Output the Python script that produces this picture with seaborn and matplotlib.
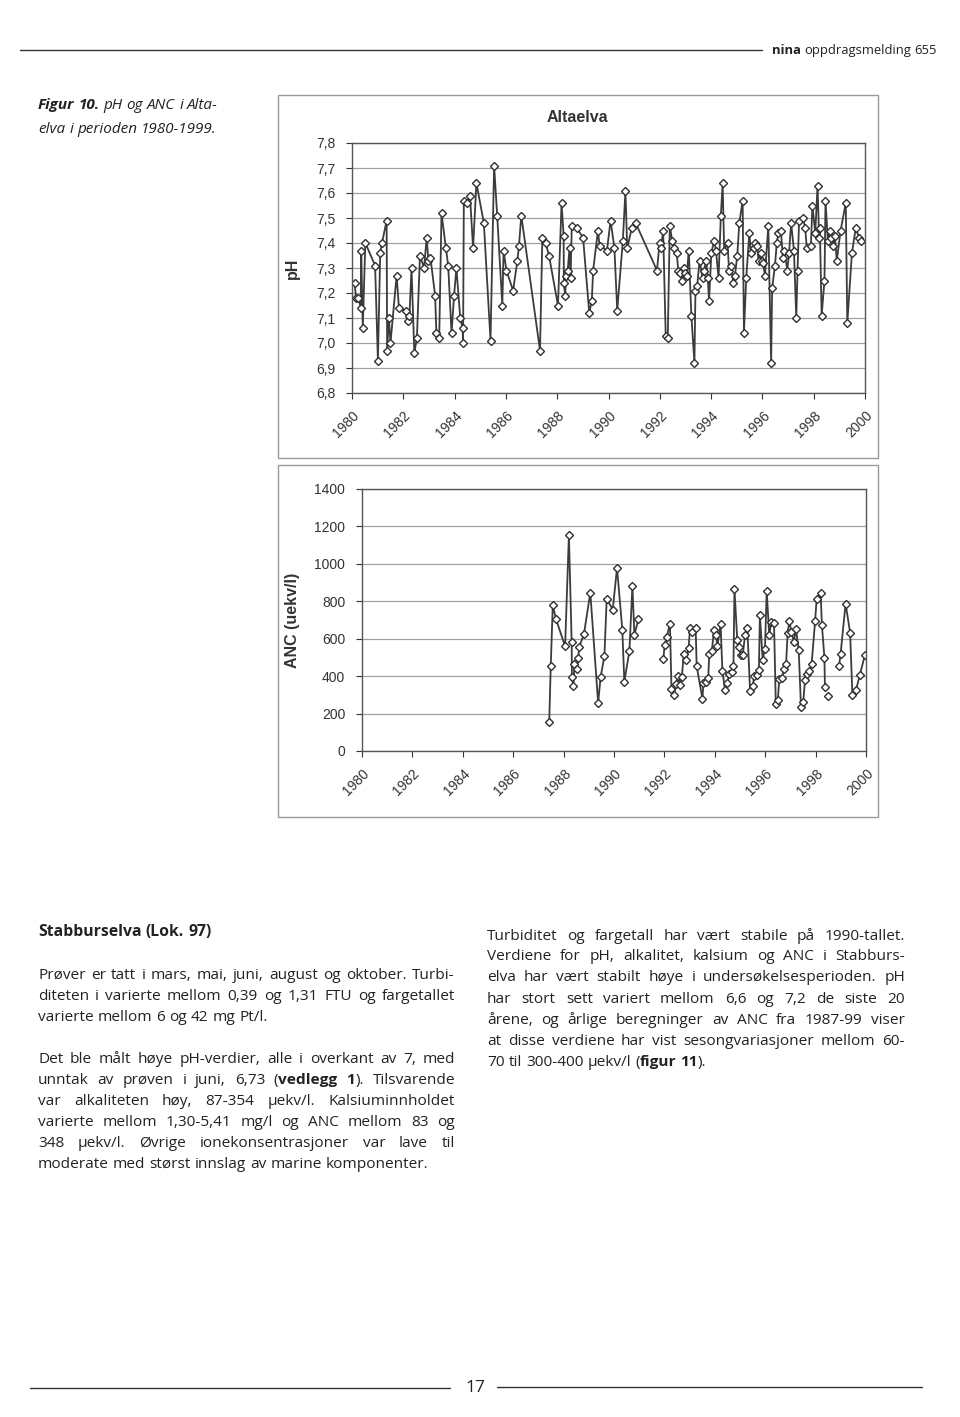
import numpy as np
import pandas as pd
import matplotlib
matplotlib.use("Agg")
import matplotlib.pyplot as plt
import seaborn as sns
from matplotlib.patches import Rectangle
from matplotlib.lines import Line2D
from matplotlib.transforms import IdentityTransform
from matplotlib.ticker import FuncFormatter

# ---------------- data ----------------
ph_year = [
    1980.10, 1980.16, 1980.25, 1980.34, 1980.36, 1980.42, 1980.52, 1980.90, 1981.01, 1981.10,
    1981.17, 1981.35, 1981.37, 1981.44, 1981.50, 1981.74, 1981.83, 1982.09, 1982.18, 1982.24,
    1982.32, 1982.43, 1982.53, 1982.65, 1982.81, 1982.91, 1982.98, 1983.06, 1983.24, 1983.29,
    1983.40, 1983.49, 1983.66, 1983.75, 1983.88, 1983.98, 1984.07, 1984.22, 1984.31, 1984.33,
    1984.36, 1984.48, 1984.60, 1984.72, 1984.85, 1985.14, 1985.40, 1985.54, 1985.66, 1985.86,
    1985.91, 1986.02, 1986.28, 1986.45, 1986.51, 1986.60, 1987.33, 1987.42, 1987.55, 1987.68,
    1988.03, 1988.17, 1988.25, 1988.26, 1988.31, 1988.35, 1988.41, 1988.48, 1988.52, 1988.57,
    1988.77, 1989.01, 1989.25, 1989.35, 1989.40, 1989.59, 1989.65,
    1989.94, 1990.08, 1990.23, 1990.34, 1990.56, 1990.66, 1990.73, 1990.91, 1991.06, 1991.89,
    1991.99, 1992.05, 1992.13, 1992.23, 1992.31, 1992.39, 1992.48, 1992.57, 1992.66, 1992.72,
    1992.80, 1992.87, 1992.93, 1993.00, 1993.05, 1993.13, 1993.23, 1993.35, 1993.39, 1993.46,
    1993.55, 1993.67, 1993.72, 1993.81, 1993.87, 1993.92, 1994.01, 1994.12, 1994.19, 1994.29,
    1994.38, 1994.45, 1994.51, 1994.64, 1994.70, 1994.79, 1994.86, 1994.93, 1995.02, 1995.10,
    1995.23, 1995.28, 1995.37, 1995.49, 1995.55, 1995.66, 1995.73, 1995.79, 1995.85, 1995.93,
    1995.97, 1996.03, 1996.10, 1996.23, 1996.34, 1996.38, 1996.49, 1996.56, 1996.62, 1996.72,
    1996.80, 1996.86, 1996.97, 1997.04, 1997.12, 1997.23, 1997.32, 1997.37, 1997.43, 1997.58,
    1997.67, 1997.73, 1997.89, 1997.95, 1998.06, 1998.15, 1998.21, 1998.24, 1998.31, 1998.42,
    1998.46, 1998.55, 1998.63, 1998.69, 1998.76, 1998.82, 1998.90, 1999.05, 1999.25, 1999.31,
    1999.49, 1999.64, 1999.77, 1999.83]
ph_value = [
    7.24, 7.18, 7.18, 7.14, 7.37, 7.06, 7.40, 7.31, 6.93, 7.36,
    7.40, 7.49, 6.97, 7.10, 7.00, 7.27, 7.14, 7.13, 7.09, 7.11,
    7.30, 6.96, 7.02, 7.35, 7.30, 7.42, 7.33, 7.34, 7.19, 7.04,
    7.02, 7.52, 7.38, 7.31, 7.04, 7.19, 7.30, 7.10, 7.06, 7.00,
    7.57, 7.56, 7.59, 7.38, 7.64, 7.48, 7.01, 7.71, 7.51, 7.15,
    7.37, 7.29, 7.21, 7.33, 7.39, 7.51, 6.97, 7.42, 7.40, 7.35,
    7.15, 7.56, 7.43, 7.24, 7.19, 7.27, 7.29, 7.38, 7.26, 7.47,
    7.46, 7.42, 7.12, 7.17, 7.29, 7.45, 7.39,
    7.37, 7.49, 7.38, 7.13, 7.41, 7.61, 7.38, 7.46, 7.48, 7.29,
    7.40, 7.38, 7.45, 7.03, 7.02, 7.47, 7.41, 7.38, 7.36, 7.29,
    7.28, 7.25, 7.30, 7.28, 7.27, 7.37, 7.11, 6.92, 7.21, 7.23,
    7.33, 7.26, 7.29, 7.33, 7.26, 7.17, 7.36, 7.41, 7.37, 7.26,
    7.51, 7.64, 7.37, 7.40, 7.29, 7.31, 7.24, 7.27, 7.35, 7.48,
    7.57, 7.04, 7.26, 7.44, 7.36, 7.38, 7.40, 7.39, 7.33, 7.36,
    7.33, 7.32, 7.27, 7.47, 6.92, 7.22, 7.31, 7.40, 7.44, 7.45,
    7.34, 7.37, 7.29, 7.36, 7.48, 7.37, 7.10, 7.29, 7.49, 7.50,
    7.46, 7.38, 7.39, 7.55, 7.44, 7.63, 7.42, 7.46, 7.11, 7.25,
    7.57, 7.41, 7.45, 7.42, 7.39, 7.43, 7.33, 7.45, 7.56, 7.08,
    7.36, 7.46, 7.42, 7.41]

NaN = float("nan")   # NaN marks a break in the ANC series
anc_year = [
    1987.43, 1987.49, 1987.57, 1987.70, 1988.06, 1988.21, 1988.32, 1988.33, 1988.39, 1988.43,
    1988.52, 1988.58, 1988.62, 1988.81, 1989.06, 1989.37, 1989.47, 1989.62, 1989.71, 1989.95,
    1990.12, 1990.33, 1990.41, 1990.61, 1990.73, 1990.81, 1990.97, NaN,
    1991.96, 1992.01, 1992.09, 1992.22, 1992.28, 1992.38, 1992.46, 1992.54, 1992.62, 1992.69,
    1992.77, 1992.86, 1992.96, 1993.02, 1993.11, 1993.24, 1993.28,
    1993.51, 1993.55, 1993.65, 1993.74, 1993.78, 1993.88, 1993.97, 1994.05, 1994.10, 1994.23,
    1994.30, 1994.41, 1994.50, 1994.56, 1994.67, 1994.74, 1994.78, 1994.89, 1994.97, 1995.03,
    1995.11, 1995.20, 1995.29, 1995.40, 1995.50, 1995.57, 1995.66, 1995.75, 1995.79, 1995.90,
    1995.99, 1996.06, 1996.16, 1996.24, 1996.35, 1996.42, 1996.50, 1996.56, 1996.65, 1996.75,
    1996.83, 1996.89, 1996.96, 1997.04, 1997.14, 1997.22, 1997.33, 1997.42, 1997.51, 1997.58,
    1997.67, 1997.75, 1997.84, 1997.98, 1998.04, 1998.20, 1998.25, 1998.35, 1998.37, NaN,
    1998.51, NaN,
    1998.93, 1998.99, 1999.19, 1999.37, 1999.46, 1999.60, 1999.76, 1999.96]
anc_value = [
    155, 454, 778, 704, 559, 1152, 583, 396, 346, 463,
    440, 499, 556, 627, 846, 257, 396, 508, 814, 755,
    979, 648, 371, 533, 880, 622, 704, NaN,
    494, 566, 609, 680, 333, 301, 360, 399, 355, 396,
    517, 488, 551, 659, 636, 659, 454,
    278, 365, 369, 390, 517, 533, 645, 618, 559, 680,
    428, 324, 364, 410, 422, 453, 867, 595, 556, 515,
    515, 618, 659, 319, 348, 399, 404, 431, 727, 488,
    547, 855, 618, 689, 685, 253, 271, 385, 388, 436,
    467, 631, 695, 636, 583, 654, 538, 235, 262, 381,
    410, 428, 463, 693, 810, 844, 673, 499, 342, NaN,
    294, NaN,
    454, 517, 787, 632, 301, 324, 408, 515]

ph_ticks = [6.8, 6.9, 7.0, 7.1, 7.2, 7.3, 7.4, 7.5, 7.6, 7.7, 7.8]
anc_ticks = [0, 200, 400, 600, 800, 1000, 1200, 1400]
year_ticks = list(range(1980, 2001, 2))

# ---------------- figure ----------------
W, H = 960, 1417
sns.set_style("white")
plt.rcParams["font.family"] = ["Liberation Sans", "DejaVu Sans"]
fig = plt.figure(figsize=(W / 100, H / 100), dpi=100)
fig.patch.set_facecolor("white")

def fx(x): return x / W
def fy(y): return 1 - y / H

LINE = "#3c3c3c"
GRID = "#a0a0a0"

def style_axes(ax, ticks, fmt, ylim):
    ax.set_xlim(1980, 2000)
    ax.set_ylim(*ylim)
    ax.set_yticks(ticks)
    ax.set_xticks(year_ticks)
    ax.yaxis.set_major_formatter(FuncFormatter(fmt))
    ax.set_xticklabels([str(y) for y in year_ticks], rotation=45, ha="right",
                       rotation_mode="anchor", fontsize=10, color="#333333")
    ax.tick_params(axis="y", labelsize=10, colors="#333333", length=4, width=0.8,
                   direction="out", left=True, pad=8)
    ax.tick_params(axis="x", length=4, width=0.8, direction="out", bottom=True, pad=7,
                   colors="#333333")
    ax.yaxis.grid(True, color=GRID, lw=0.9)
    ax.xaxis.grid(False)
    ax.set_axisbelow(True)
    for s in ax.spines.values():
        s.set_color("#555555")
        s.set_linewidth(1.0)
    ax.set_xlabel("")

marker_kw = dict(marker="D", markersize=4.2, markerfacecolor="white",
                 markeredgecolor="#303030", markeredgewidth=1.0,
                 color=LINE, linewidth=1.3)

# ---- pH chart ----
ax1 = fig.add_axes([fx(352), fy(393), (865 - 352) / W, (393 - 143) / H])
df_ph = pd.DataFrame({"year": ph_year, "pH": ph_value})
sns.lineplot(data=df_ph, x="year", y="pH", estimator=None, ax=ax1, **marker_kw)
style_axes(ax1, ph_ticks, lambda v, p: f"{v:.1f}".replace(".", ","), (6.8, 7.8))
ax1.set_ylabel("pH", fontsize=11.5, fontweight="bold", color="#333333")
ax1.yaxis.set_label_coords((300 - 352) / 513, 0.5)

# ---- ANC chart ----
ax2 = fig.add_axes([fx(362), fy(751), (866 - 362) / W, (751 - 489) / H])
anc_seg = np.cumsum(np.isnan(np.array(anc_value, dtype=float)))
df_anc = pd.DataFrame({"year": anc_year, "anc": anc_value, "seg": anc_seg}).dropna()
sns.lineplot(data=df_anc, x="year", y="anc", units="seg", estimator=None, ax=ax2,
             **marker_kw)
style_axes(ax2, anc_ticks, lambda v, p: f"{int(v)}", (0, 1400))
ax2.set_ylabel("ANC (uekv/l)", fontsize=11.5, fontweight="bold", color="#333333")
ax2.yaxis.set_label_coords((300 - 362) / 504, 0.5)

# chart frames
for (x0, y0, x1, y1) in [(278, 95, 878, 458), (278, 465, 878, 817)]:
    fig.patches.append(Rectangle((fx(x0), fy(y1)), (x1 - x0) / W, (y1 - y0) / H,
                                 transform=fig.transFigure, fill=False,
                                 edgecolor="#9a9a9a", lw=1.0))
fig.text(fx(577), fy(117), "Altaelva", ha="center", va="center", fontsize=11.5,
         fontweight="bold", color="#333333")

# ---------------- page text ----------------
BODY = ["Open Sans", "DejaVu Sans"]
renderer = fig.canvas.get_renderer()
ident = IdentityTransform()

def text_line(line, x0, yb, x1=None, size=11.1, italic=False, state=None, color="#222222"):
    """Draw one line; '*' toggles bold. If x1 is given, justify to x1."""
    if state is None:
        state = {"bold": False}
    bold = state["bold"]
    words = []
    for w in line.split(" "):
        segs = []
        parts = w.split("*")
        for i, p in enumerate(parts):
            if i > 0:
                bold = not bold
            if p:
                segs.append((p, bold))
        words.append(segs)
    state["bold"] = bold
    ypix = H - yb
    items = []
    for segs in words:
        ts = []
        for txt, b in segs:
            t = fig.text(0, ypix, txt, transform=ident, fontsize=size,
                         family=BODY, fontweight="bold" if b else "normal",
                         fontstyle="italic" if italic else "normal",
                         ha="left", va="baseline", color=color)
            ts.append(t)
        items.append(ts)
    widths = [[t.get_window_extent(renderer).width for t in ts] for ts in items]
    wsum = [sum(w) for w in widths]
    space = 0.26 * size * 100 / 72
    if x1 is not None and len(items) > 1:
        gap = (x1 - x0 - sum(wsum)) / (len(items) - 1)
    else:
        gap = space
    x = x0
    for ts, ws in zip(items, widths):
        for t, w in zip(ts, ws):
            t.set_position((x, ypix))
            x += w
        x += gap
    return state

# header
fig.add_artist(Line2D([fx(20), fx(762)], [fy(50), fy(50)], transform=fig.transFigure,
                      color="#333333", lw=1.0))
text_line("*nina* oppdragsmelding 655", 772, 54, size=9.4)

# caption
text_line("*Figur 10.* pH og ANC i Alta-", 38, 109, size=11, italic=True)
text_line("elva i perioden 1980-1999.", 38, 133, size=11, italic=True)

# left column
text_line("*Stabburselva (Lok. 97)*", 38, 936, size=11.3)
left_lines = [
    ("Prøver er tatt i mars, mai, juni, august og oktober. Turbi-", 979, True),
    ("diteten i varierte mellom 0,39 og 1,31 FTU og fargetallet", 1000, True),
    ("varierte mellom 6 og 42 mg Pt/l.", 1021, False),
    ("Det ble målt høye pH-verdier, alle i overkant av 7, med", 1063, True),
    ("unntak av prøven i juni, 6,73 (*vedlegg 1*). Tilsvarende", 1084, True),
    ("var alkaliteten høy, 87-354 µekv/l. Kalsiuminnholdet", 1105, True),
    ("varierte mellom 1,30-5,41 mg/l og ANC mellom 83 og", 1126, True),
    ("348 µekv/l. Øvrige ionekonsentrasjoner var lave til", 1147, True),
    ("moderate med størst innslag av marine komponenter.", 1168, False),
]
st = {"bold": False}
for txt, yb, just in left_lines:
    st = text_line(txt, 38, yb, x1=455 if just else None, state=st)

right_lines = [
    ("Turbiditet og fargetall har vært stabile på 1990-tallet.", 940, True),
    ("Verdiene for pH, alkalitet, kalsium og ANC i Stabburs-", 960, True),
    ("elva har vært stabilt høye i undersøkelsesperioden. pH", 981, True),
    ("har stort sett variert mellom 6,6 og 7,2 de siste 20", 1003, True),
    ("årene, og årlige beregninger av ANC fra 1987-99 viser", 1024, True),
    ("at disse verdiene har vist sesongvariasjoner mellom 60-", 1045, True),
    ("70 til 300-400 µekv/l (*figur 11*).", 1066, False),
]
st = {"bold": False}
for txt, yb, just in right_lines:
    st = text_line(txt, 487, yb, x1=905 if just else None, state=st)

# footer
fig.add_artist(Line2D([fx(30), fx(450)], [fy(1388), fy(1388)], transform=fig.transFigure,
                      color="#333333", lw=1.0))
fig.add_artist(Line2D([fx(497), fx(922)], [fy(1387), fy(1387)], transform=fig.transFigure,
                      color="#333333", lw=1.0))
fig.text(fx(475), fy(1388), "17", ha="center", va="center", fontsize=12.5,
         family=BODY, color="#222222")

fig.savefig("out.png", dpi=100, facecolor="white")
